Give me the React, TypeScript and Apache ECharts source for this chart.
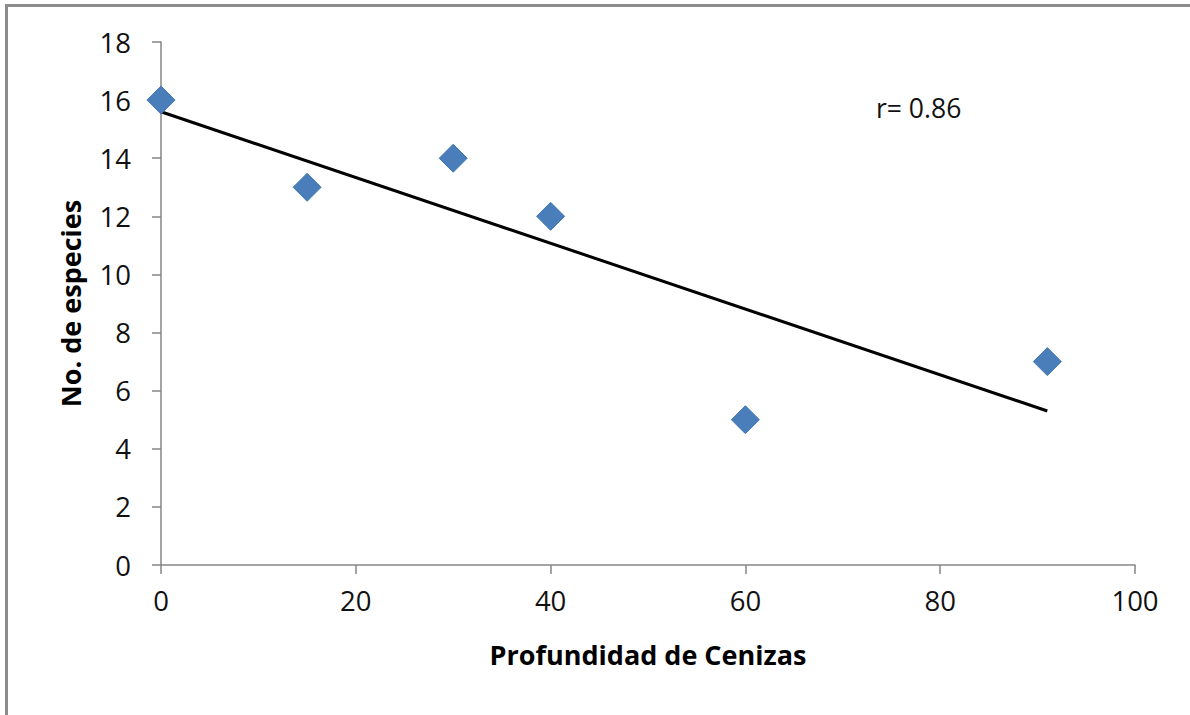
import React, { useEffect, useRef } from "react";
import * as echarts from "echarts";

const depth = [0, 15, 30, 40, 60, 91];
const species = [16, 13, 14, 12, 5, 7];
const trendX = [0, 91];
const trendY = [15.6, 5.3];
const xTicks = { min: 0, max: 100, interval: 20 };
const yTicks = { min: 0, max: 18, interval: 2 };
const rLabel = "r= 0.86";

export default function App() {
  const ref = useRef<HTMLDivElement>(null);
  useEffect(() => {
    document.body.style.margin = "0";
    const chart = echarts.init(ref.current!, null, { renderer: "svg" });
    const font = "'Open Sans', sans-serif";
    chart.setOption({
      animation: false,
      backgroundColor: "#ffffff",
      grid: { left: 161, right: 55, top: 42, bottom: 150 },
      xAxis: {
        type: "value",
        min: xTicks.min,
        max: xTicks.max,
        interval: xTicks.interval,
        name: "Profundidad de Cenizas",
        nameLocation: "middle",
        nameGap: 76,
        nameTextStyle: { fontFamily: font, fontSize: 27, fontWeight: "bold", color: "#000" },
        axisLine: { show: true, lineStyle: { color: "#868686", width: 1.5 } },
        axisTick: { show: true, length: 9, lineStyle: { color: "#868686", width: 1.5 } },
        axisLabel: { fontFamily: font, fontSize: 27.5, color: "#111", margin: 21 },
        splitLine: { show: false },
      },
      yAxis: {
        type: "value",
        min: yTicks.min,
        max: yTicks.max,
        interval: yTicks.interval,
        name: "No. de especies",
        nameLocation: "middle",
        nameGap: 77,
        nameTextStyle: { fontFamily: font, fontSize: 27, fontWeight: "bold", color: "#000" },
        axisLine: { show: true, lineStyle: { color: "#868686", width: 1.5 } },
        axisTick: { show: true, length: 9, lineStyle: { color: "#868686", width: 1.5 } },
        axisLabel: { fontFamily: font, fontSize: 27.5, color: "#111", margin: 30 },
        splitLine: { show: false },
      },
      series: [
        {
          type: "line",
          data: trendX.map((x, i) => [x, trendY[i]]),
          showSymbol: false,
          symbol: "none",
          lineStyle: { color: "#000", width: 3 },
          z: 2,
        },
        {
          type: "scatter",
          data: depth.map((x, i) => [x, species[i]]),
          symbol: "diamond",
          symbolSize: 28,
          itemStyle: { color: "#4A7EBB", borderColor: "#4276B3", borderWidth: 1, opacity: 1 },
          z: 3,
        },
      ],
      graphic: [
        {
          type: "rect",
          shape: { x: 5, y: 4, width: 1200, height: 3 },
          style: { fill: "#8c8c8c" },
        },
        {
          type: "rect",
          shape: { x: 5, y: 4, width: 3, height: 720 },
          style: { fill: "#8c8c8c" },
        },
        {
          type: "text",
          x: 876,
          y: 108,
          style: {
            text: rLabel,
            fontFamily: font,
            fontSize: 26.5,
            fill: "#111",
            verticalAlign: "middle",
            align: "left",
          },
        },
      ],
    });
    return () => chart.dispose();
  }, []);
  return <div ref={ref} style={{ width: 1190, height: 715 }} />;
}
